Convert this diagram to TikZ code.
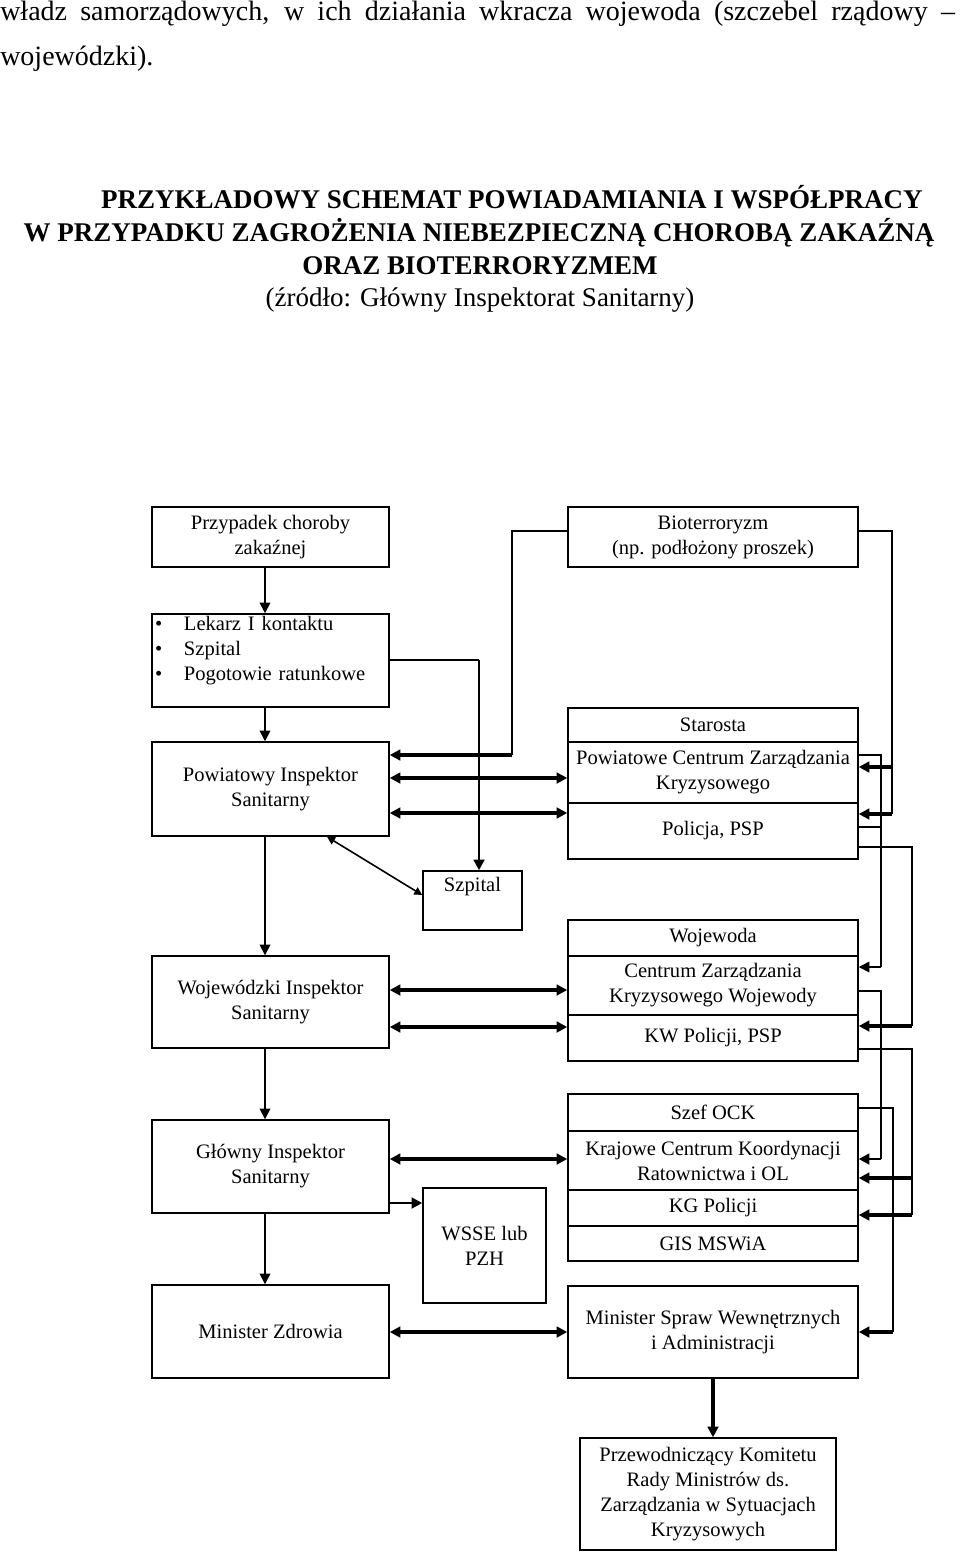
\documentclass[tikz,border=0pt]{standalone}
\usepackage{fontspec}
\setmainfont{Liberation Serif}
\newfontfamily\dfont{Liberation Serif}
\usetikzlibrary{arrows.meta}
\begin{document}
\begin{tikzpicture}[x=0.75pt,y=-0.75pt,
  bx/.style 2 args={draw, line width=1.1pt, inner sep=0pt,
    minimum width=#1*0.75pt, minimum height=#2*0.75pt, align=center,
    font={\dfont\fontsize{15.4pt}{18.75pt}\selectfont}},
  conn/.style={line width=1.2pt},
  med/.style={line width=2pt},
  thk/.style={line width=3pt},
  arr/.style={-{Triangle[length=8pt,width=8pt]}},
  darr/.style={{Triangle[length=8pt,width=8pt]}-{Triangle[length=8pt,width=8pt]}},
  hdr/.style={inner sep=0pt, font={\fontsize{21pt}{24pt}\selectfont}},
  ttl/.style={inner sep=0pt, anchor=base, font={\bfseries\fontsize{20.25pt}{24pt}\selectfont}},
  src/.style={inner sep=0pt, anchor=base, font={\fontsize{20.25pt}{24pt}\selectfont}}
]
\useasboundingbox (0,0) rectangle (960,1555);
\fill[white] (0,0) rectangle (960,1555);

% header text
\node[hdr, anchor=base west] (h1) at (0,21) {\makebox[716pt][s]{władz samorządowych, w ich działania wkracza wojewoda (szczebel rządowy –}};
\node[hdr, anchor=base west] (h2) at (0,66) {wojewódzki).};

\node[ttl] (t1) at (512,209) {PRZYKŁADOWY SCHEMAT POWIADAMIANIA I WSPÓŁPRACY};
\node[ttl] (t2) at (479,242) {W PRZYPADKU ZAGROŻENIA NIEBEZPIECZNĄ CHOROBĄ ZAKAŹNĄ};
\node[ttl] (t3) at (480,274) {ORAZ BIOTERRORYZMEM};
\node[src] (t4) at (480,306) {(źródło: Główny Inspektorat Sanitarny)};

% left column
\node[bx={237}{60}] (prz) at (270.5,537) {Przypadek choroby\\zakaźnej};
\node[bx={237}{93}, align=left, text width=173.25pt, inner xsep=2.25pt] (lek) at (270.5,660.5)
  {\makebox[21.75pt][l]{\textbullet}Lekarz I kontaktu\\
   \makebox[21.75pt][l]{\textbullet}Szpital\\
   \makebox[21.75pt][l]{\textbullet}Pogotowie ratunkowe\rule[-18pt]{0pt}{18pt}};
\node[bx={237}{94}] (pow) at (270.5,789) {Powiatowy Inspektor\\Sanitarny};
\node[bx={237}{92}] (wsi) at (270.5,1002) {Wojewódzki Inspektor\\Sanitarny};
\node[bx={237}{93}] (gis) at (270.5,1166.5) {Główny Inspektor\\Sanitarny};
\node[bx={237}{93}] (mz) at (270.5,1331.5) {Minister Zdrowia};

% middle
\node[bx={99}{59}] (szp) at (472.5,900.5) {Szpital\\ \strut};
\node[bx={123}{115}] (wsse) at (484.5,1245.5) {WSSE lub\\PZH};

% right column
\node[bx={290}{60}] (bio) at (713,537) {Bioterroryzm\\(np. podłożony proszek)};
\node[bx={290}{34}] (st1) at (713,725) {Starosta};
\node[bx={290}{61}] (st2) at (713,772.5) {Powiatowe Centrum Zarządzania\\Kryzysowego};
\node[bx={290}{56}] (st3) at (713,831) {Policja, PSP};
\node[bx={290}{36}] (wo1) at (713,938) {Wojewoda};
\node[bx={290}{59}] (wo2) at (713,985.5) {Centrum Zarządzania\\Kryzysowego Wojewody};
\node[bx={290}{46}] (wo3) at (713,1038) {KW Policji, PSP};
\node[bx={290}{37}] (sz1) at (713,1112.5) {Szef OCK};
\node[bx={290}{59}] (sz2) at (713,1160.5) {Krajowe Centrum Koordynacji\\Ratownictwa i OL};
\node[bx={290}{36}] (sz3) at (713,1208) {KG Policji};
\node[bx={290}{35}] (sz4) at (713,1243.5) {GIS MSWiA};
\node[bx={290}{92}] (msw) at (713,1332) {Minister Spraw Wewnętrznych\\i Administracji};
\node[bx={256}{112}] (prk) at (708,1494) {Przewodniczący Komitetu\\Rady Ministrów ds.\\Zarządzania w Sytuacjach\\Kryzysowych};

% left column vertical arrows
\draw[conn,arr] (prz.south -| 265,0) -- (lek.north -| 265,0);
\draw[conn,arr] (lek.south -| 265,0) -- (pow.north -| 265,0);
\draw[conn,arr] (pow.south -| 265,0) -- (wsi.north -| 265,0);
\draw[conn,arr] (wsi.south -| 265,0) -- (gis.north -| 265,0);
\draw[conn,arr] (gis.south -| 265,0) -- (mz.north -| 265,0);

% Lekarz -> Szpital
\coordinate (k1) at (479,660);
\draw[conn] (lek.east |- k1) -- (k1);
\draw[med,arr] (k1) -- (k1 |- szp.north);

% Bioterroryzm -> Powiatowy
\coordinate (b1) at (512,531);
\coordinate (b2) at (512,755);
\draw[conn] (bio.west |- b1) -- (b1) -- (b2);
\draw[thk,arr] (b2) -- (b2 -| pow.east);

% horizontal links
\draw[thk,darr] (pow.east |- 0,778) -- (st2.west |- 0,778);
\draw[thk,darr] (pow.east |- 0,813) -- (st3.west |- 0,813);
\draw[conn,{Triangle[length=6pt,width=6pt]}-{Triangle[length=6pt,width=6pt]}] (pow.south -| 327,0) -- (szp.west |- 0,895);
\draw[thk,darr] (wsi.east |- 0,990) -- (wo2.west |- 0,990);
\draw[thk,darr] (wsi.east |- 0,1027) -- (wo3.west |- 0,1027);
\draw[thk,darr] (gis.east |- 0,1159) -- (sz2.west |- 0,1159);
\draw[med,arr] (gis.east |- 0,1203) -- (wsse.west |- 0,1203);
\draw[thk,darr] (mz.east |- 0,1332) -- (msw.west |- 0,1332);
\draw[thk,arr] (msw.south -| 713,0) -- (prk.north -| 713,0);

% right side trunks
\draw[conn] (bio.east |- 0,531) -- (892,531) -- (892,814);
\draw[thk,arr] (892,767) -- (st2.east |- 0,767);
\draw[thk,arr] (892,814) -- (st3.east |- 0,814);

\draw[conn] (st2.east |- 0,755) -- (881,755) -- (881,967);
\draw[conn] (st3.east |- 0,827) -- (881,827);
\draw[conn,arr] (881,967) -- (wo2.east |- 0,967);

\draw[conn] (st3.east |- 0,847) -- (912,847) -- (912,1026);
\draw[thk,arr] (912,1026) -- (wo3.east |- 0,1026);

\draw[conn] (wo2.east |- 0,991) -- (881,991) -- (881,1159);
\draw[med,arr] (881,1159) -- (sz2.east |- 0,1159);

\draw[conn] (wo3.east |- 0,1049) -- (912,1049) -- (912,1215);
\draw[thk,arr] (912,1178) -- (sz2.east |- 0,1178);
\draw[thk,arr] (912,1215) -- (sz3.east |- 0,1215);

\draw[conn] (sz1.east |- 0,1108) -- (893,1108) -- (893,1332);
\draw[thk,arr] (893,1332) -- (msw.east |- 0,1332);
\end{tikzpicture}
\end{document}
